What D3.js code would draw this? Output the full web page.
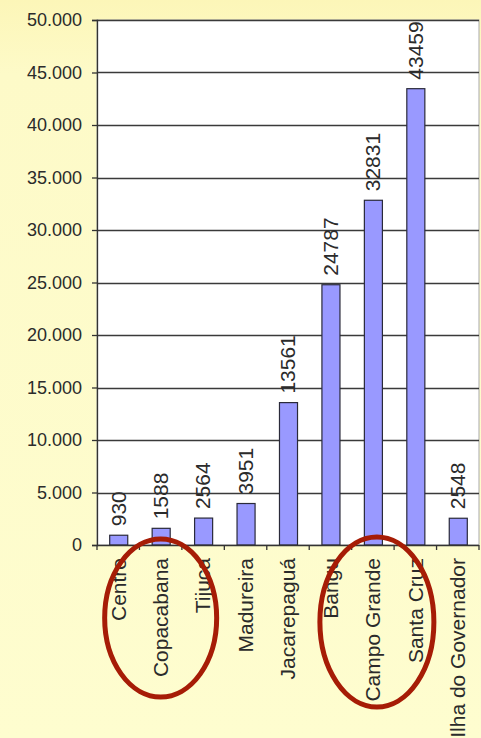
<!DOCTYPE html>
<html>
<head>
<meta charset="utf-8">
<script src="https://cdn.jsdelivr.net/npm/d3@7"></script>
<style>
  html, body { margin: 0; padding: 0; background: #fdfccd; }
  svg { display: block; }
  text { font-family: Arial, "Liberation Sans", sans-serif; }
</style>
</head>
<body>
<svg id="chart" width="481" height="738"></svg>
<script>
const categories = ["Centro", "Copacabana", "Tijuca", "Madureira", "Jacarepaguá", "Bangu", "Campo Grande", "Santa Cruz", "Ilha do Governador"];
const values = [930, 1588, 2564, 3951, 13561, 24787, 32831, 43459, 2548];
const yTicks = [0, 5000, 10000, 15000, 20000, 25000, 30000, 35000, 40000, 45000, 50000];
const highlighted = ["Copacabana", "Campo Grande"];

const svg = d3.select("#chart");
const W = 481, H = 738;
const margin = { left: 97, right: 2, top: 20, bottom: 193 };
const x0 = margin.left, x1 = W - margin.right;
const y0 = H - margin.bottom, y1 = margin.top;

// background gradient
const defs = svg.append("defs");
const grad = defs.append("linearGradient").attr("id", "bg").attr("x1", 0).attr("y1", 0).attr("x2", 0).attr("y2", 1);
grad.append("stop").attr("offset", "0%").attr("stop-color", "#fcf6b8");
grad.append("stop").attr("offset", "10%").attr("stop-color", "#fdfac8");
grad.append("stop").attr("offset", "100%").attr("stop-color", "#fefdcf");
svg.append("rect").attr("width", W).attr("height", H).attr("fill", "url(#bg)");

const x = d3.scaleBand().domain(categories).range([x0, x1]).paddingInner(0.575).paddingOuter(0.2875);
const y = d3.scaleLinear().domain([0, 50000]).range([y0, y1]);

const locale = d3.formatLocale({ decimal: ",", thousands: ".", grouping: [3], currency: ["", ""] });
const fmt = locale.format(",d");

// plot area
svg.append("rect").attr("x", x0).attr("y", y1).attr("width", x1 - x0).attr("height", y0 - y1)
  .attr("fill", "#ffffff").attr("stroke", "#a9a9a9").attr("stroke-width", 1);

// gridlines
svg.append("g").selectAll("line").data(yTicks.filter(d => d > 0)).join("line")
  .attr("x1", x0).attr("x2", x1)
  .attr("y1", d => Math.round(y(d)) + 0.5).attr("y2", d => Math.round(y(d)) + 0.5)
  .attr("stroke", "#3a3a3a").attr("stroke-width", 1.3);

// y axis
const yAxis = svg.append("g").attr("transform", `translate(${x0},0)`)
  .call(d3.axisLeft(y).tickValues(yTicks).tickFormat(fmt).tickSize(5).tickPadding(10));
yAxis.select(".domain").attr("stroke", "#333").attr("stroke-width", 1.3);
yAxis.selectAll(".tick line").attr("stroke", "#333").attr("stroke-width", 1.3);
yAxis.selectAll(".tick text").attr("font-size", "18px").attr("fill", "#2b2b2b")
  .attr("font-family", "Arial, 'Liberation Sans', sans-serif");

// bars
svg.append("g").selectAll("rect").data(categories).join("rect")
  .attr("x", d => x(d) + 0.5)
  .attr("y", (d, i) => y(values[i]))
  .attr("width", x.bandwidth())
  .attr("height", (d, i) => y0 - y(values[i]))
  .attr("fill", "#9999ff").attr("stroke", "#2a2a3a").attr("stroke-width", 1.2);

// x axis line
svg.append("line").attr("x1", x0).attr("x2", x1).attr("y1", y0 + 0.5).attr("y2", y0 + 0.5)
  .attr("stroke", "#333").attr("stroke-width", 1.3);
// x tick marks at category boundaries
const bounds = d3.range(categories.length + 1).map(i => x0 + i * x.step());
svg.append("g").selectAll("line").data(bounds).join("line")
  .attr("x1", d => d).attr("x2", d => d)
  .attr("y1", y0).attr("y2", y0 + 5)
  .attr("stroke", "#333").attr("stroke-width", 1.3);

// value labels
svg.append("g").selectAll("text").data(categories).join("text")
  .attr("transform", (d, i) => `translate(${x(d) + x.bandwidth() / 2},${y(values[i]) - 9}) rotate(-90)`)
  .attr("dy", "0.35em")
  .attr("text-anchor", "start")
  .attr("font-size", "21px").attr("fill", "#2b2b2b")
  .text((d, i) => values[i]);

// category labels
svg.append("g").selectAll("text").data(categories).join("text")
  .attr("transform", d => `translate(${x(d) + x.bandwidth() / 2},${y0 + 13}) rotate(-90)`)
  .attr("dy", "0.35em")
  .attr("text-anchor", "end")
  .attr("font-size", "21px").attr("fill", "#2b2b2b")
  .text(d => d);

// highlight ellipses
const ell = [
  { c: highlighted[0], dx: 0, cy: 618, rx: 56, ry: 79 },
  { c: highlighted[1], dx: 4, cy: 622, rx: 57, ry: 85 }
];
svg.append("g").selectAll("ellipse").data(ell).join("ellipse")
  .attr("cx", d => x(d.c) + x.bandwidth() / 2 + d.dx)
  .attr("cy", d => d.cy)
  .attr("rx", d => d.rx).attr("ry", d => d.ry)
  .attr("fill", "none").attr("stroke", "#a61c06").attr("stroke-width", 5);
</script>
</body>
</html>
